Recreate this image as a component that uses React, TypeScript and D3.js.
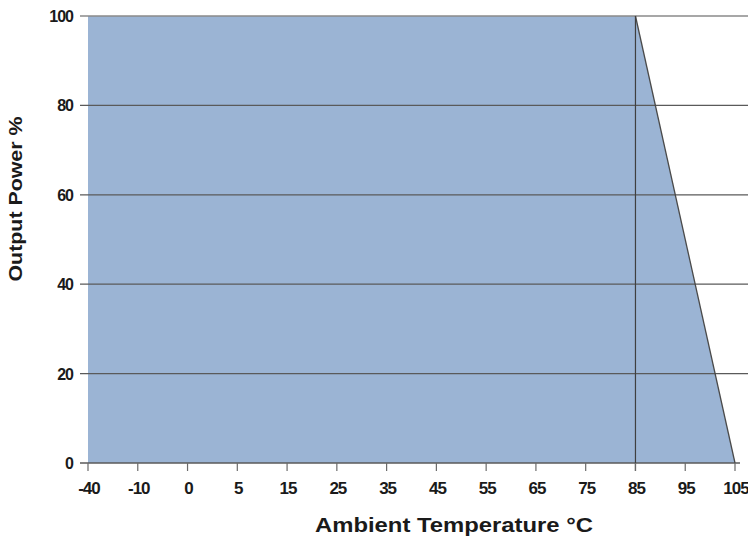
import { useEffect, useRef } from 'react';
import * as d3 from 'd3';

// category ticks along the temperature axis (evenly spaced, not linear)
const tempLabels = ['-40', '-10', '0', '5', '15', '25', '35', '45', '55', '65', '75', '85', '95', '105'];
const powerTicks = [0, 20, 40, 60, 80, 100];

// derating curve
const curveTemp = ['-40', '85', '105'];
const curvePower = [100, 100, 0];

const WIDTH = 748;
const HEIGHT = 537;

export default function App(): React.JSX.Element {
  const svgRef = useRef<SVGSVGElement>(null);

  useEffect(() => {
    if (!svgRef.current) return;
    const svg = d3.select(svgRef.current);
    svg.selectAll('*').remove();

    const x = d3.scalePoint<string>().domain(tempLabels).range([88, 735]);
    const y = d3.scaleLinear().domain([0, 100]).range([463, 16]);

    const font = '"Liberation Sans", Arial, sans-serif';

    // filled derating area
    const pts = curveTemp.map((t, i) => ({ t, p: curvePower[i] }));
    const area = d3.area<{ t: string; p: number }>()
      .x(d => x(d.t) ?? 0)
      .y0(y(0))
      .y1(d => y(d.p));
    svg.append('path')
      .attr('d', area(pts) ?? '')
      .attr('fill', '#9bb4d4');

    // horizontal gridlines
    svg.append('g')
      .selectAll('line')
      .data(powerTicks)
      .join('line')
      .attr('x1', 80)
      .attr('x2', d => (d === 0 ? 740 : WIDTH))
      .attr('y1', d => y(d))
      .attr('y2', d => y(d))
      .attr('stroke', d => (d === 100 ? '#8a8a8a' : '#5a5a5a'))
      .attr('stroke-width', 1.3);

    // sloped edge of the curve
    const line = d3.line<{ t: string; p: number }>()
      .x(d => x(d.t) ?? 0)
      .y(d => y(d.p));
    svg.append('path')
      .attr('d', line(pts.slice(1)) ?? '')
      .attr('fill', 'none')
      .attr('stroke', '#4a4a4a')
      .attr('stroke-width', 1.3);

    // vertical marker at 85
    svg.append('line')
      .attr('x1', x('85') ?? 0)
      .attr('x2', x('85') ?? 0)
      .attr('y1', y(100))
      .attr('y2', y(0) + 8)
      .attr('stroke', '#3f3f3f')
      .attr('stroke-width', 1.2);

    // x ticks
    svg.append('g')
      .selectAll('line')
      .data(tempLabels)
      .join('line')
      .attr('x1', d => x(d) ?? 0)
      .attr('x2', d => x(d) ?? 0)
      .attr('y1', y(0))
      .attr('y2', y(0) + 8)
      .attr('stroke', '#6a6a6a')
      .attr('stroke-width', 1.2);

    // x tick labels
    svg.append('g')
      .selectAll('text')
      .data(tempLabels)
      .join('text')
      .attr('x', d => (x(d) ?? 0) + 1)
      .attr('y', 494)
      .attr('text-anchor', 'middle')
      .attr('font-family', font)
      .attr('font-weight', 'bold')
      .attr('font-size', 17)
      .attr('letter-spacing', -1)
      .attr('fill', '#1a1a1a')
      .text(d => d);

    // y tick labels
    svg.append('g')
      .selectAll('text')
      .data(powerTicks)
      .join('text')
      .attr('x', 73)
      .attr('y', d => y(d) + 6)
      .attr('text-anchor', 'end')
      .attr('font-family', font)
      .attr('font-weight', 'bold')
      .attr('font-size', 16)
      .attr('letter-spacing', -1)
      .attr('fill', '#1a1a1a')
      .text(d => d);

    // axis titles
    svg.append('text')
      .attr('x', 454)
      .attr('y', 532)
      .attr('text-anchor', 'middle')
      .attr('font-family', font)
      .attr('font-weight', 'bold')
      .attr('font-size', 20)
      .attr('textLength', 278)
      .attr('lengthAdjust', 'spacingAndGlyphs')
      .attr('fill', '#1a1a1a')
      .text('Ambient Temperature °C');

    svg.append('text')
      .attr('transform', 'translate(22,199) rotate(-90)')
      .attr('text-anchor', 'middle')
      .attr('font-family', font)
      .attr('font-weight', 'bold')
      .attr('font-size', 19)
      .attr('textLength', 165)
      .attr('lengthAdjust', 'spacingAndGlyphs')
      .attr('fill', '#1a1a1a')
      .text('Output Power %');
  }, []);

  return (
    <svg
      ref={svgRef}
      width={WIDTH}
      height={HEIGHT}
      style={{ position: 'absolute', left: 0, top: 0, background: '#fff' }}
    />
  );
}
